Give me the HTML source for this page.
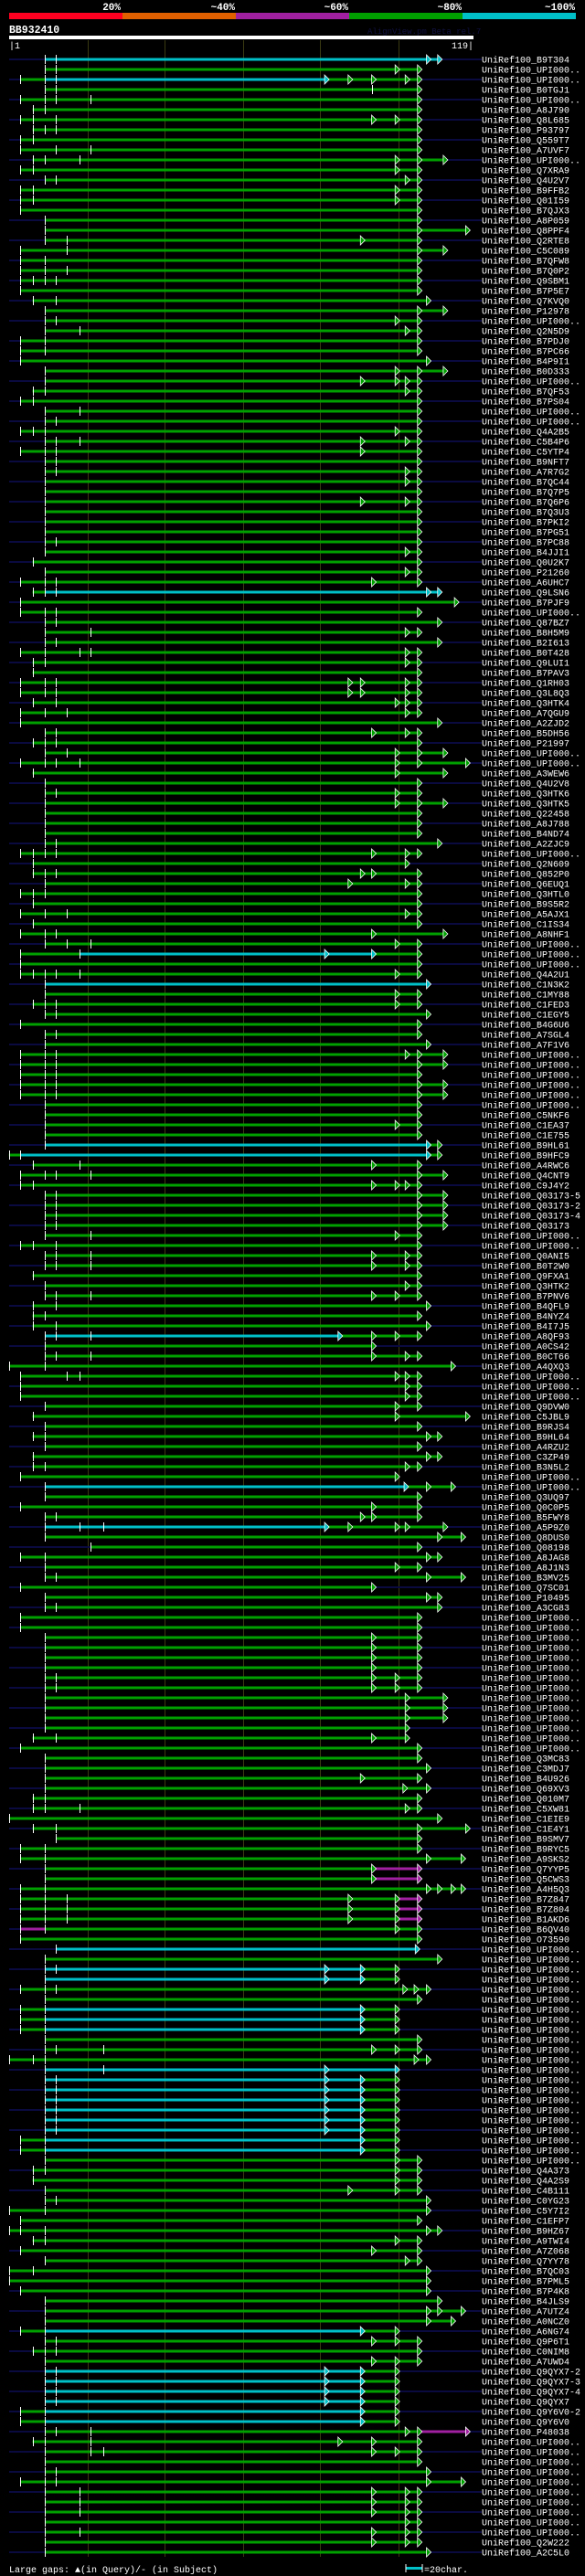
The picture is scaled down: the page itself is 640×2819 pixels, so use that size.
<!DOCTYPE html>
<html><head><meta charset="utf-8"><style>
html,body{margin:0;padding:0;background:#000;}
svg{display:block;}
text{font-family:"Liberation Mono","DejaVu Sans Mono",monospace;}
</style></head><body>
<svg id="chart" width="640" height="2819" viewBox="0 0 640 2819" xmlns="http://www.w3.org/2000/svg">
<rect x="0" y="0" width="640" height="2819" fill="#000"/>
<g>
<text x="132" y="11" fill="#fff" font-size="11" font-weight="bold" text-anchor="end">20%</text>
<text x="257" y="11" fill="#fff" font-size="11" font-weight="bold" text-anchor="end">~40%</text>
<text x="381" y="11" fill="#fff" font-size="11" font-weight="bold" text-anchor="end">~60%</text>
<text x="505" y="11" fill="#fff" font-size="11" font-weight="bold" text-anchor="end">~80%</text>
<text x="629" y="11" fill="#fff" font-size="11" font-weight="bold" text-anchor="end">~100%</text>
<rect x="10" y="14" width="124" height="7" fill="#ff0020"/>
<rect x="134" y="14" width="124" height="7" fill="#e06000"/>
<rect x="258" y="14" width="124" height="7" fill="#a020a0"/>
<rect x="382" y="14" width="124" height="7" fill="#00a000"/>
<rect x="506" y="14" width="124" height="7" fill="#00c0c8"/>
</g>
<text x="10" y="36" fill="#fff" font-size="11.5" font-weight="bold">BB932410</text>
<text x="402" y="37" fill="#101040" font-size="9">AlignView.pm Beta rel.7</text>
<rect x="10" y="39" width="508" height="4" fill="#fff"/>
<text x="10" y="53" fill="#fff" font-size="10">|1</text>
<text x="518" y="53" fill="#fff" font-size="10" text-anchor="end">119|</text>
<g id="grid"></g>
<g id="rows"></g>
<g>
<text x="10" y="2815" fill="#fff" font-size="10">Large gaps: ▲(in Query)/- (in Subject)</text>
<rect x="444" y="2809" width="18" height="3" fill="#00c0c8"/>
<line x1="444" y1="2806" x2="444" y2="2815" stroke="#fff" stroke-width="1"/>
<line x1="462" y1="2806" x2="462" y2="2815" stroke="#fff" stroke-width="1"/>
<text x="464" y="2815" fill="#fff" font-size="10">=20char.</text>
</g>
</svg>
<script>
const gridX = [78,147,217,286,356];
const rowData = [
"B9T304;40c381>391>;40,50","UPI000..;40g353>373>;40,50","UPI000..;18g40c290>g311>332>362>373>;18,40,50","B0TGJ1;40g373>;40,50,332","UPI000..;18g373>;18,40,50,81",
"A8J790;29g373>;29,40","Q8L685;18g332>353>373>;18,29,50","P93797;29g373>;29,40,50","Q559T7;18g373>;18,29","A7UVF7;18g373>;18,50,81",
"UPI000..;29g353>373>396>;29,40,71","Q7XRA9;18g353>373>;18,29","Q4U2V7;40g362>373>;40,50","B9FFB2;18g353>373>;18,29","Q01I59;18g353>373>;18,29",
"B7QJX3;18g373>;18","A8P059;40g373>;40","Q8PPF4;40g373>416>;40","Q2RTE8;40g322>373>;40,60","C5C089;18g373>396>;18,60",
"B7QFW8;18g373>;18,40","B7Q0P2;18g373>;18,40,60","Q9SBM1;18g373>;18,29,40,50","B7P5E7;18g373>;18","Q7KVQ0;29g381>;29,50",
"P12978;40g373>396>;40","UPI000..;40g353>373>;40,50","Q2N5D9;40g362>373>;40,71","B7PDJ0;18g373>;18,40","B7PC66;18g373>;18,40",
"B4P9I1;18g381>;18","B0D333;40g353>373>396>;40","UPI000..;40g322>353>362>373>;40","B7QF53;29g362>373>;29,40","B7PS04;18g373>;18,29",
"UPI000..;40g373>;40,71","UPI000..;40g373>;40,50","Q4A2B5;18g353>373>;18,29,40","C5B4P6;40g322>362>373>;40,50,71","C5YTP4;18g322>373>;18,40,50",
"B9NFT7;40g373>;40,50","A7R7G2;40g362>373>;40,50","B7QC44;40g362>373>;40","B7Q7P5;40g373>;40","B7Q6P6;40g322>362>373>;40",
"B7Q3U3;40g373>;40","B7PKI2;40g373>;40","B7PG51;40g373>;40","B7PC88;40g373>;40,50","B4JJI1;40g362>373>;40",
"Q0U2K7;29g373>;29","P21260;40g362>373>;40","A6UHC7;18g332>373>;18,40,50","Q9LSN6;29g40c381>391>;29,40,50","B7PJF9;18g406>;18",
"UPI000..;18g373>;18,40,50","Q87BZ7;40g391>;40,50","B8H5M9;40g362>373>;40,81","B2I613;40g391>;40,50","B0T428;18g362>373>;18,40,71,81",
"Q9LUI1;29g362>373>;29,40","B7PAV3;29g373>;29","Q1RH03;18g311>322>362>373>;18,40,50","Q3L8Q3;18g311>322>362>373>;18,40,50","Q3HTK4;29g353>362>373>;29,50",
"A7QGU9;18g362>373>;18,40,60","A2ZJD2;18g391>;18","B5DH56;40g332>362>373>;40,50","P21997;29g373>;29,40,50","UPI000..;40g353>373>396>;40,60",
"UPI000..;18g353>373>416>;18,40,50,71","A3WEW6;29g353>396>;29","Q4U2V8;40g373>;40","Q3HTK6;40g353>373>;40,50","Q3HTK5;40g353>373>396>;40",
"Q22458;40g373>;40","A8J788;40g373>;40","B4ND74;40g373>;40","A2ZJC9;40g391>;40,50","UPI000..;18g332>362>373>;18,29,40,50",
"Q2N609;29g362>;29","Q852P0;29g322>332>373>;29,40,50","Q6EUQ1;40g311>362>373>;40","Q3HTL0;18g373>;18,29,40","B9S5R2;29g373>;29",
"A5AJX1;18g362>373>;18,40,60","C1IS34;29g373>;29","A8NHF1;18g332>396>;18,40,50","UPI000..;40g353>373>;40,60,81","UPI000..;18g71c290>332>g373>;18,71",
"UPI000..;18g373>;18","Q4A2U1;18g353>373>;18,29,40,50,71","C1N3K2;40c381>;40","C1MY88;40g353>373>;40","C1FED3;29g353>373>;29,40,50",
"C1EGY5;40g381>;40,50","B4G6U6;18g373>;18","A7SGL4;40g373>;40,50","A7F1V6;40g381>;40","UPI000..;18g362>373>396>;18,40,50",
"UPI000..;18g373>396>;18,40,50","UPI000..;18g373>;18,40,50","UPI000..;18g373>396>;18,40,50","UPI000..;18g373>396>;18,40,50","UPI000..;40g373>;40",
"C5NKF6;40g373>;40","C1EA37;40g353>373>;40","C1E755;40g373>;40","B9HL61;40c381>g391>;40","B9HFC9;8g18c381>g391>;8,18",
"A4RWC6;29g332>373>;29,71","Q4CNT9;18g373>396>;18,40,50,81","C9J4Y2;18g332>353>362>373>;18,29","Q03173-5;40g373>396>;40,50","Q03173-2;40g373>396>;40,50",
"Q03173-4;40g373>396>;40,50","Q03173;40g373>396>;40,50","UPI000..;40g353>373>;40,81","UPI000..;18g373>;18,29,50","Q0ANI5;40g332>362>373>;40,50,81",
"B0T2W0;40g332>362>373>;40,50,81","Q9FXA1;29g373>;29","Q3HTK2;40g362>373>;40","B7PNV6;40g332>353>373>;40,50,81","B4QFL9;29g381>;29,50",
"B4NYZ4;29g373>;29,40","B4I7J5;29g381>;29,50","A8QF93;40c302>g332>353>373>;40,50,81","A0CS42;40g332>;40","B0CT66;40g332>362>373>;40,50,81",
"A4QXQ3;8g403>;8,40","UPI000..;18g353>362>373>;18,60,71","UPI000..;18g362>373>;18","UPI000..;18g362>373>;18","Q9DVW0;40g353>373>;40",
"C5JBL9;29g353>416>;29","B9RJS4;40g373>;40","B9HL64;29g381>391>;29,40","A4RZU2;40g373>;40","C3ZP49;29g381>391>;29",
"B3N5L2;29g362>373>;29,40","UPI000..;18g353>;18","UPI000..;40c361>g381>403>;40","Q3UQ97;40g373>;40","Q0C0P5;18g332>373>;18",
"B5FWY8;40g322>332>373>;40,50","A5P9Z0;40c290>g311>353>362>396>;40,71,92","Q8DUS0;40g391>412>;40","Q08198;81g373>;81","A8JAG8;18g381>391>;18,40",
"A8J1N3;40g353>373>;40","B3MV25;40g381>412>;40,50","Q7SC01;18g332>;18","P10495;40g381>391>;40","A3CG83;40g391>;40,50",
"UPI000..;18g373>;18","UPI000..;18g373>;18","UPI000..;40g332>373>;40","UPI000..;40g332>373>;40","UPI000..;40g332>373>;40",
"UPI000..;40g332>373>;40","UPI000..;40g332>353>373>;40,50","UPI000..;40g332>353>373>;40,50","UPI000..;40g362>396>;40","UPI000..;40g362>396>;40",
"UPI000..;40g362>396>;40","UPI000..;40g362>;40","UPI000..;29g332>362>;29,50","UPI000..;18g373>;18","Q3MC83;40g373>;40",
"C3MDJ7;40g381>;40","B4U926;40g322>373>;40","Q69XV3;40g360>381>;40","Q010M7;29g373>;29,40","C5XW81;29g362>373>;29,40,71",
"C1EIE9;8g391>;8","C1E4Y1;29g373>416>;29,50","B9SMV7;50g373>;50","B9RYC5;18g373>;18,40","A9SKS2;18g381>412>;18,40",
"Q7YYP5;40g332>m373>;40","Q5CWS3;40g332>m373>;40","A4H5Q3;18g381>391>403>412>;18,40","B7Z847;18g311>353>m373>;18,40,60","B7Z804;18g311>353>m373>;18,40,60",
"B1AKD6;18g311>353>m373>;18,40,60","B6QV40;18m40g353>373>;18,40","O73590;18g373>;18","UPI000..;50c371>;50","UPI000..;40g391>;40",
"UPI000..;40c290>322>g353>;40,50","UPI000..;40c290>322>g353>;40","UPI000..;18g360>370>381>;18,40,50","UPI000..;40g373>;40","UPI000..;18g40c322>g353>;18,40",
"UPI000..;18g40c322>g353>;18,40","UPI000..;18g40c322>g353>;18,40","UPI000..;40g373>;40","UPI000..;40g332>353>373>;40,50,92","UPI000..;8g370>381>;8,29,40",
"UPI000..;40c290>353>;40,92","UPI000..;40c290>322>g353>;40,50","UPI000..;40c290>322>g353>;40,50","UPI000..;40c290>322>g353>;40,50","UPI000..;40c290>322>g353>;40,50",
"UPI000..;40c290>322>g353>;40,50","UPI000..;40c290>322>g353>;40,50","UPI000..;18g40c322>g353>;18,40","UPI000..;18g40c322>g353>;18,40","UPI000..;40g353>373>;40",
"Q4A373;29g353>373>;29,40","Q4A2S9;29g353>373>;29","C4B111;40g311>353>373>;40","C0YG23;40g381>;40,50","C5Y7I2;8g381>;8,40",
"C1EFP7;18g373>;18","B9HZ67;8g381>391>;8,18,40","A9TWI4;29g353>373>;29,40","A7Z068;18g332>373>;18","Q7YY78;40g362>373>;40",
"B7QC03;8g381>;8,29","B7PML5;8g381>;8","B7P4K8;18g381>;18","B4JLS9;40g391>;40","A7UTZ4;40g381>391>412>;40",
"A0NCZ0;40g381>403>;40","A6NG74;18g40c322>g353>;18,40","Q9P6T1;40g332>353>373>;40,50","C0NIM8;29g373>;29,40,50","A7UWD4;40g332>353>373>;40",
"Q9QYX7-2;40c290>322>g353>;40,50","Q9QYX7-3;40c290>322>g353>;40,50","Q9QYX7-4;40c290>322>g353>;40,50","Q9QYX7;40c290>322>g353>;40,50","Q9Y6V0-2;18g40c322>g353>;18,40",
"Q9Y6V0;18g40c322>g353>;18,40","P48038;40g362>373>m416>;40,50,81","UPI000..;29g302>332>373>;29,40,81","UPI000..;40g332>353>373>;40,81,92","UPI000..;40g373>;40",
"UPI000..;40g381>;40,50","UPI000..;18g381>412>;18,40,50","UPI000..;40g332>362>373>;40,71","UPI000..;40g332>362>373>;40,71","UPI000..;40g332>362>373>;40,71",
"UPI000..;40g362>373>;40","UPI000..;40g332>362>373>;40,71","Q2W222;40g332>362>373>;40","A2C5L0;40g381>;40"
];
const ROW0 = 65.3, PITCH = 11, S = 1.2245;
const colors = {g:"#00a000", c:"#00c0c8", m:"#a020a0"};
const NS = "http://www.w3.org/2000/svg";
function mk(tag, attrs){const e=document.createElementNS(NS,tag);for(const k in attrs)e.setAttribute(k,attrs[k]);return e;}
function X(v){return v*S;}
function rowY(i){return ROW0 + i*PITCH;}
const grid = document.getElementById('grid');
gridX.forEach((x)=>{
  const px = Math.round(X(x))+0.5;
  const l = mk('line',{x1:px,y1:44,x2:px,y2:2798,stroke:'#3a3a12','stroke-width':1});
  
  
  grid.appendChild(l);
});
const rowsG = document.getElementById('rows');
rowData.forEach((r,i)=>{
  const [label, segs, ticks] = r.split(';');
  const y = Math.round(rowY(i));
  const g = mk('g',{});
  
  
  if(i%2===0){
    const bg = mk('rect',{x:10,y:y-1,width:517,height:2,fill:'#0a0a40'});
    
    
    g.appendChild(bg);
  }
  const toks = [...segs.matchAll(/(\d+)(>?)([gcm]?)/g)];
  let prev = null, col = 'g';
  const arrows = [];
  toks.forEach(t=>{
    const pos = +t[1];
    if(prev!==null){
      const s = mk('rect',{x:X(prev),y:y-1.5,width:Math.max(0,X(pos)-X(prev)),height:3,fill:colors[col]});
      
      
      g.appendChild(s);
      if(t[2]) arrows.push([pos,col]);
    }
    if(t[3]) col = t[3];
    prev = pos;
  });
  (ticks||'').split(',').filter(Boolean).forEach(tx=>{
    const x = Math.round(X(+tx))+0.5;
    const t = mk('line',{x1:x,y1:y-5,x2:x,y2:y+5,stroke:'#fff','stroke-width':1});
    
    
    g.appendChild(t);
  });
  arrows.forEach(([v,c])=>{
    const x = X(v);
    const p = mk('polygon',{points:`${x},${y-5} ${x+5},${y} ${x},${y+5}`,fill:colors[c],stroke:'#fff','stroke-width':0.8});
    
    
    g.appendChild(p);
  });
  const tx = mk('text',{x:527,y:y+3.5,fill:'#fff','font-size':10});
  tx.textContent = 'UniRef100_' + label;
  
  
  g.appendChild(tx);
  rowsG.appendChild(g);
});
</script>
</body></html>
